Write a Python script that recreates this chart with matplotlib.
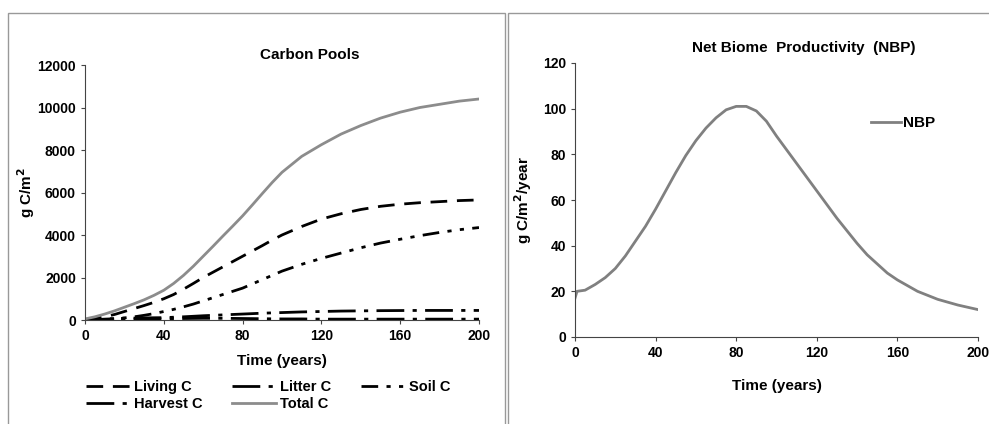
import matplotlib
matplotlib.use('Agg')
import matplotlib.pyplot as plt
from matplotlib.patches import Rectangle

plt.rcParams['font.family'] = ['Liberation Sans', 'DejaVu Sans']
plt.rcParams['font.weight'] = 'bold'

# carbon pools (g C/m2)
years = [0, 5, 10, 15, 20, 25, 30, 35, 40, 45, 50, 55, 60, 65, 70, 75, 80, 85, 90, 95, 100,
         110, 120, 130, 140, 150, 160, 170, 180, 190, 200]
living_c = [0, 60, 150, 260, 400, 540, 680, 830, 1000, 1200, 1450, 1720, 2000, 2250, 2500, 2750, 3000, 3250, 3500, 3760, 4000,
            4400, 4750, 5000, 5200, 5350, 5450, 5520, 5570, 5620, 5650]
litter_c = [0, 20, 40, 60, 80, 90, 100, 105, 110, 130, 150, 175, 200, 220, 240, 260, 280, 300, 320, 335, 350,
            380, 400, 420, 430, 440, 445, 450, 450, 450, 450]
soil_c = [0, 15, 40, 70, 100, 150, 220, 300, 400, 500, 620, 750, 900, 1050, 1200, 1350, 1500, 1700, 1900, 2100, 2300,
          2620, 2900, 3150, 3400, 3620, 3800, 3970, 4120, 4250, 4350]
harvest_c = [0, 5, 10, 20, 30, 40, 50, 55, 60, 65, 70, 75, 80, 80, 80, 75, 70, 65, 60, 55, 50,
             50, 40, 40, 40, 40, 40, 40, 40, 40, 40]
total_c = [50, 150, 280, 430, 600, 770, 950, 1160, 1400, 1720, 2100, 2530, 3000, 3470, 3950, 4420, 4900, 5420, 5950, 6470, 6950,
           7700, 8250, 8750, 9150, 9500, 9780, 10000, 10150, 10300, 10400]

# net biome productivity (g C/m2/year)
nbp_years = [0, 1, 5, 10, 15, 20, 25, 30, 35, 40, 45, 50, 55, 60, 65, 70, 75, 80, 85, 90, 95, 100,
             105, 110, 115, 120, 125, 130, 135, 140, 145, 150, 155, 160, 170, 180, 190, 200]
nbp = [17, 20, 20.5, 23, 26, 30, 35.5, 42, 48.5, 56, 64, 72, 79.5, 86, 91.5, 96, 99.5, 101, 101, 99, 94.5, 88,
       82, 76, 70, 64, 58, 52, 46.5, 41, 36, 32, 28, 25, 20, 16.5, 14, 12]

fig = plt.figure(figsize=(9.89, 4.24), dpi=100)

# panel frames
fig.patches.append(Rectangle((8/989, -0.1), 497/989, 1.1 - 13/424, transform=fig.transFigure,
                             fill=False, edgecolor='#999999', linewidth=1))
fig.patches.append(Rectangle((508/989, -0.1), 0.6, 1.1 - 13/424, transform=fig.transFigure,
                             fill=False, edgecolor='#999999', linewidth=1))

ax1 = fig.add_axes([85/989, 104/424, 394/989, 255/424])
ax2 = fig.add_axes([575/989, 87/424, 403/989, 274/424])

h_living, = ax1.plot(years, living_c, color='black', lw=2, dashes=(6, 3.5), label='Living C')
h_litter, = ax1.plot(years, litter_c, color='black', lw=2, dashes=(10, 3, 1.5, 3), label='Litter C')
h_soil, = ax1.plot(years, soil_c, color='black', lw=2, dashes=(6, 3, 1.5, 3, 1.5, 3), label='Soil C')
h_harvest, = ax1.plot(years, harvest_c, color='black', lw=2, dashes=(10, 3, 1.5, 3), label='Harvest C')
h_total, = ax1.plot(years, total_c, color='#8c8c8c', lw=2, label='Total C')

ax1.set_xlim(0, 200)
ax1.set_ylim(0, 12000)
ax1.set_xticks([0, 40, 80, 120, 160, 200])
ax1.set_yticks(range(0, 12001, 2000))
ax1.text(0.57, 1.04, 'Carbon Pools', transform=ax1.transAxes, ha='center', va='center',
         fontsize=11, fontweight='bold')
ax1.set_xlabel('Time (years)', fontsize=11, fontweight='bold', labelpad=8)
ax1.set_ylabel('g C/m$^\\mathbf{2}$', fontsize=11, fontweight='bold', labelpad=0)
# column-wise fill so rows read Living/Litter/Soil, Harvest/Total
ax1.legend([h_living, h_harvest, h_litter, h_total, h_soil],
           ['Living C', 'Harvest C', 'Litter C', 'Total C', 'Soil C'],
           loc='upper left', bbox_to_anchor=(-0.03, -0.185), ncol=3, frameon=False,
           fontsize=10.5, handlelength=3, columnspacing=2.0, handletextpad=0.3,
           labelspacing=0.2)

ax2.plot(nbp_years, nbp, color='#808080', lw=2, label='NBP')
ax2.set_xlim(0, 200)
ax2.set_ylim(0, 120)
ax2.set_xticks([0, 40, 80, 120, 160, 200])
ax2.set_yticks(range(0, 121, 20))
ax2.text(0.568, 1.055, 'Net Biome  Productivity  (NBP)', transform=ax2.transAxes,
         ha='center', va='center', fontsize=11, fontweight='bold')
ax2.set_xlabel('Time (years)', fontsize=11, fontweight='bold', labelpad=14)
ax2.set_ylabel('g C/m$^\\mathbf{2}$/year', fontsize=11, fontweight='bold', labelpad=6)
ax2.legend(loc='center left', bbox_to_anchor=(0.7, 0.78), frameon=False,
           fontsize=11, handlelength=2, handletextpad=0.1)

for ax in (ax1, ax2):
    ax.spines['top'].set_visible(False)
    ax.spines['right'].set_visible(False)
    ax.spines['left'].set_color('#444444')
    ax.spines['bottom'].set_color('#444444')
    ax.tick_params(labelsize=10, length=3, color='#444444')
    for lab in ax.get_xticklabels() + ax.get_yticklabels():
        lab.set_fontweight('bold')

fig.savefig('out.png', dpi=100)
